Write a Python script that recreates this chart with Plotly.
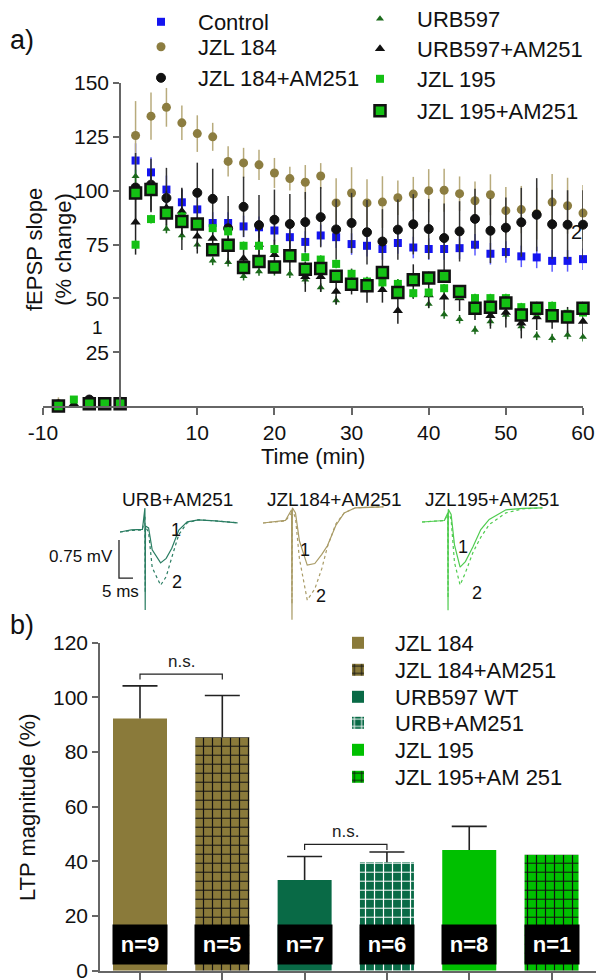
import plotly.graph_objects as go

W, H = 596, 980
FONT = "Arial, Liberation Sans, sans-serif"

# ---------------- data: panel a ----------------
time_min = [-8, -6, -4, -2, 0, 2, 4, 6, 8, 10, 12, 14, 16, 18, 20, 22, 24, 26, 28, 30,
            32, 34, 36, 38, 40, 42, 44, 46, 48, 50, 52, 54, 56, 58, 60]

control = [-1, -1, 1, 1, 1, 114, 108.5, 100.5, 94.6, 91.3, 85, 85, 83.4, 83, 81.5, 78.4, 76.2,
           79.2, 78.4, 75.2, 74.4, 72.9, 75.7, 73.6, 72.9, 72.9, 73.3, 74.9, 70.7, 71.5, 69.5,
           69, 67.4, 67.4, 68.2]
control_err = [2, 2, 2, 2, 2, 8, 7, 6.5, 6, 5.5, 5, 5, 5, 5, 5, 5, 5, 5, 5, 5, 5, 5, 5, 5, 5,
               5, 5, 5, 5, 5, 5, 5, 5, 5, 5]

jzl184 = [1, -3, 2, -2, 1, 125.6, 134.6, 138.7, 131.5, 126.5, 125, 113.6, 112.9, 112, 108.2,
          105.6, 103.9, 106.8, 94.3, 98.9, 94.3, 94.7, 96.7, 98.4, 100, 100.2, 98.6, 95.3, 98.1,
          90.7, 91.2, 89.3, 94.7, 93, 89.6]
jzl184_err = [3, 2, 2, 2, 2, 16, 11, 9, 8, 8.5, 6.5, 7, 7, 7, 7, 5.5, 8, 6, 11.5, 12, 11, 12, 8,
              8, 10, 10, 8, 9, 9.5, 11, 11, 12, 13, 13, 13]

jzl184_am = [0, -3, 3, 1, 2, 101.5, 102.8, 96.6, 86.5, 99, 96.2, 82.5, 92.5, 84, 86.5, 84.5,
             85.4, 87.7, 82, 85, 80.7, 76.4, 81.9, 84.4, 82.2, 78, 81.1, 86.9, 81.4, 82.8, 85.3,
             88.8, 84.4, 84.2, 84.2]
jzl184_am_err = [2, 2, 2, 2, 2, 16, 12, 14, 14, 14, 14, 15, 14, 14, 14, 14, 14, 14, 14, 14, 15,
                 15, 14, 14, 14, 16, 14, 14, 15, 14, 16, 17, 16, 16, 16]

urb597 = [1, 0, -1, 0, -1, 106.7, 99, 82.2, 79.2, 74.9, 67.4, 66.8, 60.3, 62.5, 62.6, 61.4,
          58.6, 55, 49, 57.4, 55, 57.4, 57, 52, 47.4, 42.5, 40.3, 35.3, 39.2, 42.3, 36.9, 32.6,
          31.5, 33, 32]
urb597_err = [1, 1, 1, 1, 1, 3, 3, 2, 2, 2, 2, 2, 2, 2, 2, 2, 2, 2, 2, 2, 2, 2, 2, 2, 2, 2, 2,
              2, 2, 2, 2, 2, 2, 2, 2]

urb597_am = [1, 1, 2, 1, 0, 85.3, 100, 92, 90.4, 78.8, 77.8, 73.3, 68.5, 75, 70.2, 70, 60, 60,
             53.2, 57.8, 54, 54, 44.2, 57.8, 51.6, 50.5, 50.1, 45.9, 41.9, 43.4, 38.4, 41.3, 41.9,
             40, 39.2]
urb597_am_err = [2, 2, 2, 2, 2, 15, 10, 8, 11, 8, 7, 7, 7, 7, 7, 7, 7, 7, 6, 6, 6, 6, 6, 8, 6,
                 6, 6, 6, 6, 7, 7, 6, 6, 6, 6]

jzl195 = [-1, 3, -1, -1, 1, 74.9, 86.8, 90, 88, 85.3, 82.6, 81.1, 74.4, 74.4, 72.9, 69.2, 69.1,
          68, 66, 61.4, 57.8, 57.4, 56.7, 52.4, 52.7, 54.7, 51.6, 50.1, 50.1, 50.1, 45.9, 43.9,
          46.5, 42.8, 43.4]
jzl195_err = [1, 1, 1, 1, 1, 2, 2, 2, 2, 2, 2, 2, 2, 2, 2, 2, 2, 2, 2, 2, 2, 2, 2, 2, 2, 2, 2,
              2, 2, 2, 2, 2, 2, 2, 2]

jzl195_am = [0, -1, 1, 1, 1, 98.9, 100.5, 89.6, 85.7, 84.5, 72.6, 74.6, 64.3, 67.1, 64.5, 69.8,
             63.5, 63.8, 60.2, 56.5, 55.8, 62, 52.7, 58.6, 59.4, 60.2, 53.2, 45.4, 45.9, 47.8,
             42.3, 45.4, 41.9, 41.3, 45.4]
jzl195_am_err = [1, 1, 1, 1, 1, 3, 3, 3, 3, 3, 3, 3, 3, 3, 3, 3, 3, 3, 3, 3, 3, 3, 3, 3, 3, 3,
                 3, 3, 3, 3, 3, 3, 3, 3, 3]

a_xticks = [-10, 10, 20, 30, 40, 50, 60]
a_xticklabels = ["-10", "10", "20", "30", "40", "50", "60"]
a_yticks = [25, 50, 75, 100, 125, 150]

# ---------------- data: example traces (ms, mV) ----------------
urb_t = [0, 4, 8, 8.9, 9.0, 9.1, 10.2, 11.5, 14.5, 16.5, 18.5, 21, 24, 28, 34, 42]
urb_v1 = [0, 0.04, 0.05, 0.47, -1.54, 0.12, 0.08, -0.35, -0.61, -0.52, -0.32, 0.04, 0.2, 0.24,
          0.22, 0.18]
urb_v2 = [0, 0.03, 0.04, 0.3, -1.2, 0.1, 0.0, -0.7, -1.05, -0.88, -0.5, -0.05, 0.18, 0.24, 0.22,
          0.18]

j184_t = [0, 4, 8, 10.2, 10.35, 10.5, 11.6, 13, 15.8, 18.5, 21, 23, 26, 29, 33, 43]
j184_v1 = [0, 0.02, 0.05, 0.26, -1.91, 0.3, 0.2, -0.35, -0.83, -0.8, -0.62, -0.45, -0.05, 0.2,
           0.3, 0.32]
j184_v2 = [0, 0.02, 0.04, 0.2, -1.6, 0.25, 0.1, -0.7, -1.52, -1.3, -0.9, -0.47, -0.02, 0.2,
           0.3, 0.32]

j195_t = [0, 4, 8, 9.2, 9.3, 9.4, 10.4, 11.6, 13.6, 15.5, 18.2, 21, 24, 30, 36, 43]
j195_v1 = [0, 0.02, 0.03, 0.18, -1.74, 0.25, 0.15, -0.45, -0.89, -0.78, -0.49, -0.15, 0.05,
           0.24, 0.27, 0.28]
j195_v2 = [0, 0.02, 0.03, 0.15, -1.5, 0.2, 0.05, -0.8, -1.24, -1.0, -0.6, -0.3, -0.05, 0.18,
           0.26, 0.28]

scale_ms = 5
scale_mv = 0.75

# ---------------- data: panel b ----------------
b_labels = ["JZL 184", "JZL 184+AM251", "URB597 WT", "URB+AM251", "JZL 195", "JZL 195+AM 251"]
b_values = [92.3, 85.4, 33.2, 39.7, 44.2, 42.4]
b_errors = [11.9, 15.3, 8.6, 3.7, 8.6, 0]
b_n = ["n=9", "n=5", "n=7", "n=6", "n=8", "n=1"]
b_yticks = [0, 20, 40, 60, 80, 100, 120]
ns_pairs = [(0, 1, 108.5), (2, 3, 46.2)]

# ---------------- styles ----------------
BLUE = "#1414f0"
OLIVE = "#8c7d40"
OLIVE_ERR = "#b8ab7c"
DKGREEN = "#1b6a1b"
LTGREEN = "#14c014"
BAR_OLIVE = "#8a7a3a"
BAR_URB = "#096a46"
BAR_195 = "#00c000"
AXC = "#666666"

fig = go.Figure()

# legend slots (one entry each): (x of left edge px, y of centre px)
top_slots = {"Control": (124, 22), "JZL 184": (124, 47), "JZL 184+AM251": (124, 78),
             "URB597": (343, 19), "URB597+AM251": (343, 49), "JZL 195": (343, 79),
             "JZL 195+AM251": (343, 111)}
bot_slots = [(321, 643), (321, 670), (321, 697), (321, 723), (321, 750), (321, 777)]
legend_layouts = {}
legend_counter = [0]


def new_legend(xpx, ypx):
    legend_counter[0] += 1
    n = legend_counter[0]
    key = "legend" if n == 1 else "legend%d" % n
    legend_layouts[key] = dict(x=xpx / W, y=1 - ypx / H, xanchor="left", yanchor="middle",
                               font=dict(size=22, color="#111"), bgcolor="rgba(0,0,0,0)",
                               itemwidth=64, borderwidth=0)
    return key


series = [
    ("Control", control, control_err, dict(symbol="square", size=8, color=BLUE), "#5a5aff"),
    ("JZL 184", jzl184, jzl184_err, dict(symbol="circle", size=9, color=OLIVE), OLIVE_ERR),
    ("JZL 184+AM251", jzl184_am, jzl184_am_err,
     dict(symbol="circle", size=9, color="#111111", line=dict(color="#111111", width=1)), "#333333"),
    ("URB597", urb597, urb597_err, dict(symbol="triangle-up", size=7, color=DKGREEN), DKGREEN),
    ("URB597+AM251", urb597_am, urb597_am_err, dict(symbol="triangle-up", size=9, color="#111111"), "#222222"),
    ("JZL 195", jzl195, jzl195_err, dict(symbol="square", size=8, color=LTGREEN), LTGREEN),
    ("JZL 195+AM251", jzl195_am, jzl195_am_err,
     dict(symbol="square", size=11, color=LTGREEN, line=dict(color="#111111", width=2.5)), "#222222"),
]
for name, vals, errs, mk, ecol in series:
    lg = new_legend(*top_slots[name])
    fig.add_trace(go.Scatter(
        x=time_min, y=vals, mode="markers", name=name, marker=mk,
        error_y=dict(type="data", array=errs, color=ecol, thickness=1.5, width=0),
        xaxis="x", yaxis="y", cliponaxis=False, legend=lg,
    ))

# ---- example traces ----
PX_MS, PX_MV = 2.8, 50.7
wave_sets = [
    ("URB+AM251", urb_t, urb_v1, urb_v2, "#2a7d62", 120, 532, "3", 177),
    ("JZL184+AM251", j184_t, j184_v1, j184_v2, "#a99b66", 263, 523, "4", 334),
    ("JZL195+AM251", j195_t, j195_v1, j195_v2, "#4fcc4f", 422, 522, "5", 492),
]
wave_axes = {}
for title, t, v1, v2, col, t0px, v0py, k, tc in wave_sets:
    dl, dr, dtop, dbot = t0px - 10, t0px + 135, 490, 630
    xr = [(dl - t0px) / PX_MS, (dr - t0px) / PX_MS]
    yr = [-(dbot - v0py) / PX_MV, (v0py - dtop) / PX_MV]
    wave_axes[k] = (dict(domain=[dl / W, dr / W], range=xr, visible=False, anchor="y" + k),
                    dict(domain=[1 - dbot / H, 1 - dtop / H], range=yr, visible=False, anchor="x" + k))
    fig.add_trace(go.Scatter(x=t, y=v1, mode="lines", line=dict(color=col, width=1.2),
                             xaxis="x" + k, yaxis="y" + k, showlegend=False))
    fig.add_trace(go.Scatter(x=t, y=v2, mode="lines", line=dict(color=col, width=1.2, dash="dot"),
                             xaxis="x" + k, yaxis="y" + k, showlegend=False))

# scale bar in URB axes
sb_t0, sb_v0 = -0.36, -0.16
fig.add_trace(go.Scatter(x=[sb_t0, sb_t0, sb_t0 + scale_ms],
                         y=[sb_v0, sb_v0 - scale_mv, sb_v0 - scale_mv],
                         mode="lines", line=dict(color="#222222", width=1.3),
                         xaxis="x3", yaxis="y3", showlegend=False))

# ---- panel b bars ----
bar_styles = [
    dict(color=BAR_OLIVE),
    dict(color=BAR_OLIVE, pattern=dict(shape="+", fgcolor="#111111", bgcolor=BAR_OLIVE, size=9, solidity=0.25)),
    dict(color=BAR_URB),
    dict(color=BAR_URB, pattern=dict(shape="+", fgcolor="#ffffff", bgcolor=BAR_URB, size=9, solidity=0.25)),
    dict(color=BAR_195),
    dict(color=BAR_195, pattern=dict(shape="+", fgcolor="#111111", bgcolor=BAR_195, size=9, solidity=0.25)),
]
for i, (lab, val, st) in enumerate(zip(b_labels, b_values, bar_styles)):
    lg = new_legend(*bot_slots[i])
    fig.add_trace(go.Bar(
        x=[i], y=[val], name=lab, width=0.656, marker=dict(line=dict(width=0), **st),
        xaxis="x2", yaxis="y2", legend=lg,
    ))
# upper error bars: cap marker at mean+SEM, line down to the bar top
for i, (val, err) in enumerate(zip(b_values, b_errors)):
    if err <= 0:
        continue
    fig.add_trace(go.Scatter(
        x=[i], y=[val + err], mode="markers",
        marker=dict(symbol="line-ew-open", size=25, color="#222222",
                    line=dict(color="#222222", width=1.6)),
        error_y=dict(type="data", symmetric=False, array=[0], arrayminus=[err], color="#222222",
                     thickness=1.6, width=0),
        xaxis="x2", yaxis="y2", showlegend=False, hoverinfo="skip"))

for a, b, h in ns_pairs:
    fig.add_trace(go.Scatter(x=[a, a, b, b], y=[h - 2, h, h, h - 2], mode="lines",
                             line=dict(color="#222222", width=1.2), xaxis="x2", yaxis="y2",
                             showlegend=False, hoverinfo="skip"))

annotations = []
for a, b, h in ns_pairs:
    annotations.append(dict(x=(a + b) / 2, y=h + 0.4, xref="x2", yref="y2", text="n.s.",
                            showarrow=False, xanchor="center", yanchor="bottom",
                            font=dict(size=17, color="#222")))
for i, n in enumerate(b_n):
    annotations.append(dict(x=i, y=9.7, xref="x2", yref="y2", text="<b>%s</b>" % n,
                            showarrow=False, xanchor="center", yanchor="middle",
                            bgcolor="#000000", width=52, height=37, borderpad=1,
                            font=dict(size=22, color="white")))


def paper_text(xpx, ypx, text, size, angle=0):
    return dict(x=xpx / W, y=1 - ypx / H, xref="paper", yref="paper", text=text, showarrow=False,
                xanchor="center", yanchor="middle", textangle=angle,
                font=dict(size=size, color="#111"))


annotations += [
    paper_text(22, 40, "a)", 27),
    paper_text(22, 625, "b)", 27),
    paper_text(313, 457, "Time (min)", 22),
    paper_text(49, 250, "fEPSP slope<br>(% change)", 22, -90),
    paper_text(27, 807, "LTP magnitude (%)", 22, -90),
    dict(x=-3, y=36.5, xref="x", yref="y", text="1", showarrow=False, font=dict(size=19, color="#111")),
    dict(x=59.2, y=81, xref="x", yref="y", text="2", showarrow=False, font=dict(size=20, color="#111")),
]
for title, t, v1, v2, col, t0px, v0py, k, tc in wave_sets:
    annotations.append(paper_text(tc, 499, title, 19))
# 1/2 labels on traces
lab12 = {"3": [(20, 0.04), (20.5, -0.99)], "4": [(15, -0.54), (20.6, -1.43)], "5": [(14.6, -0.5), (19.6, -1.4)]}
for k, pts in lab12.items():
    for txt, (xx, yy) in zip(["1", "2"], pts):
        annotations.append(dict(x=xx, y=yy, xref="x" + k, yref="y" + k, text=txt, showarrow=False,
                                font=dict(size=18, color="#111")))
annotations += [
    dict(x=sb_t0 - 1.3, y=sb_v0 - scale_mv / 2 + 0.05, xref="x3", yref="y3", text="0.75 mV",
         xanchor="right", yanchor="middle", showarrow=False, font=dict(size=17, color="#111")),
    dict(x=sb_t0 + scale_ms / 2 - 1.8, y=sb_v0 - scale_mv - 0.03, xref="x3", yref="y3", text="5 ms",
         xanchor="center", yanchor="top", showarrow=False, font=dict(size=17, color="#111")),
]

axis_common = dict(showline=True, linecolor=AXC, linewidth=1.5, ticks="outside", tickcolor=AXC,
                   tickwidth=1.5, showgrid=False, zeroline=False, automargin=False,
                   ticklabeloverflow="allow",
                   tickfont=dict(size=21, color="#111", family=FONT))

layout = dict(
    template="none",
    width=W, height=H, margin=dict(l=0, r=0, t=0, b=0, autoexpand=False),
    paper_bgcolor="white", plot_bgcolor="rgba(0,0,0,0)",
    font=dict(family=FONT, color="#111"),
    barmode="overlay", hovermode=False,
    xaxis=dict(domain=[43 / W, 583 / W], range=[-10, 60], anchor="y", tickvals=a_xticks,
               ticktext=a_xticklabels, ticklen=7, **axis_common),
    yaxis=dict(domain=[1 - 406 / H, 1 - 83 / H], range=[0, 150], anchor="free", position=120 / W,
               tickvals=a_yticks, ticklen=6, **axis_common),
    xaxis2=dict(domain=[100 / W, 1.0], range=[-0.486, 5.54], anchor="y2", tickvals=[0, 1, 2, 3, 4, 5],
                ticktext=[""] * 6, ticklen=10, **axis_common),
    yaxis2=dict(domain=[1 - 970.7 / H, 1 - 642.7 / H], range=[0, 120], anchor="x2", tickvals=b_yticks,
                ticklen=6, **axis_common),
    annotations=annotations,
)
layout.update(legend_layouts)
for k, (xa, ya) in wave_axes.items():
    layout["xaxis" + k] = xa
    layout["yaxis" + k] = ya

fig.update_layout(**layout)
fig.write_html("out.html", config={"displayModeBar": False},
               post_script="document.body.style.margin='0';")
